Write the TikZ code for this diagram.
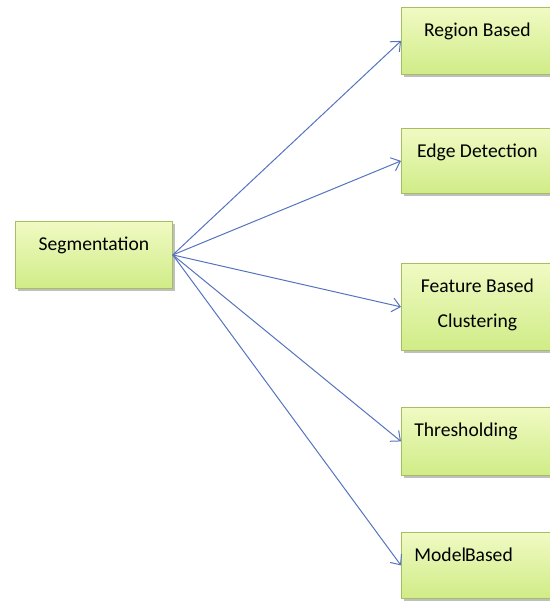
\documentclass[tikz,border=0pt]{standalone}
\usepackage{fontspec}
\setmainfont{Carlito}
\usetikzlibrary{arrows.meta, positioning, shadows}
\definecolor{boxtop}{RGB}{240,250,195}
\definecolor{boxbot}{RGB}{208,236,135}
\definecolor{boxline}{RGB}{165,190,95}
\definecolor{linkblue}{RGB}{85,115,190}

\begin{document}
\begin{tikzpicture}[x=0.5pt, y=-0.5pt, font=\fontsize{9.8}{17.5}\selectfont,
    box/.style={draw=boxline, top color=boxtop, bottom color=boxbot, inner sep=0pt,
        anchor=north west, minimum width=76pt, text height=14.5pt,
        drop shadow={shadow xshift=1.5pt, shadow yshift=-1.5pt, fill=black, opacity=0.25}},
    leftbox/.style={box, align=left, inner xsep=6.5pt, text width=63pt},
    link/.style={draw=linkblue, line width=0.5pt, -{Straight Barb[length=4pt, width=7pt]}}]
    \clip (0,0) rectangle (550,601);
    % linke Seite
    \node[box, minimum width=78.5pt, text depth=19pt] (seg) at (15,221) {Segmentation};
    % rechte Seite
    \node[box, text depth=19pt] (region) at (401,7) {Region Based};
    \node[box, text depth=18pt] (edge) at (401,128) {Edge Detection};
    \node[box, align=flush center, text width=76pt, text depth=29pt] (feature) at (401,263) {Feature Based\\Clustering};
    \node[leftbox, text depth=19.5pt] (thresh) at (401,407) {Thresholding};
    \node[leftbox, text depth=18.5pt] (model) at (401,532) {Model\kern-0.5pt Based};
    % Pfeile
    \foreach \n in {region, edge, feature, thresh, model} {
        \draw[link] (seg.east) -- (\n.west);
    }
\end{tikzpicture}
\end{document}
